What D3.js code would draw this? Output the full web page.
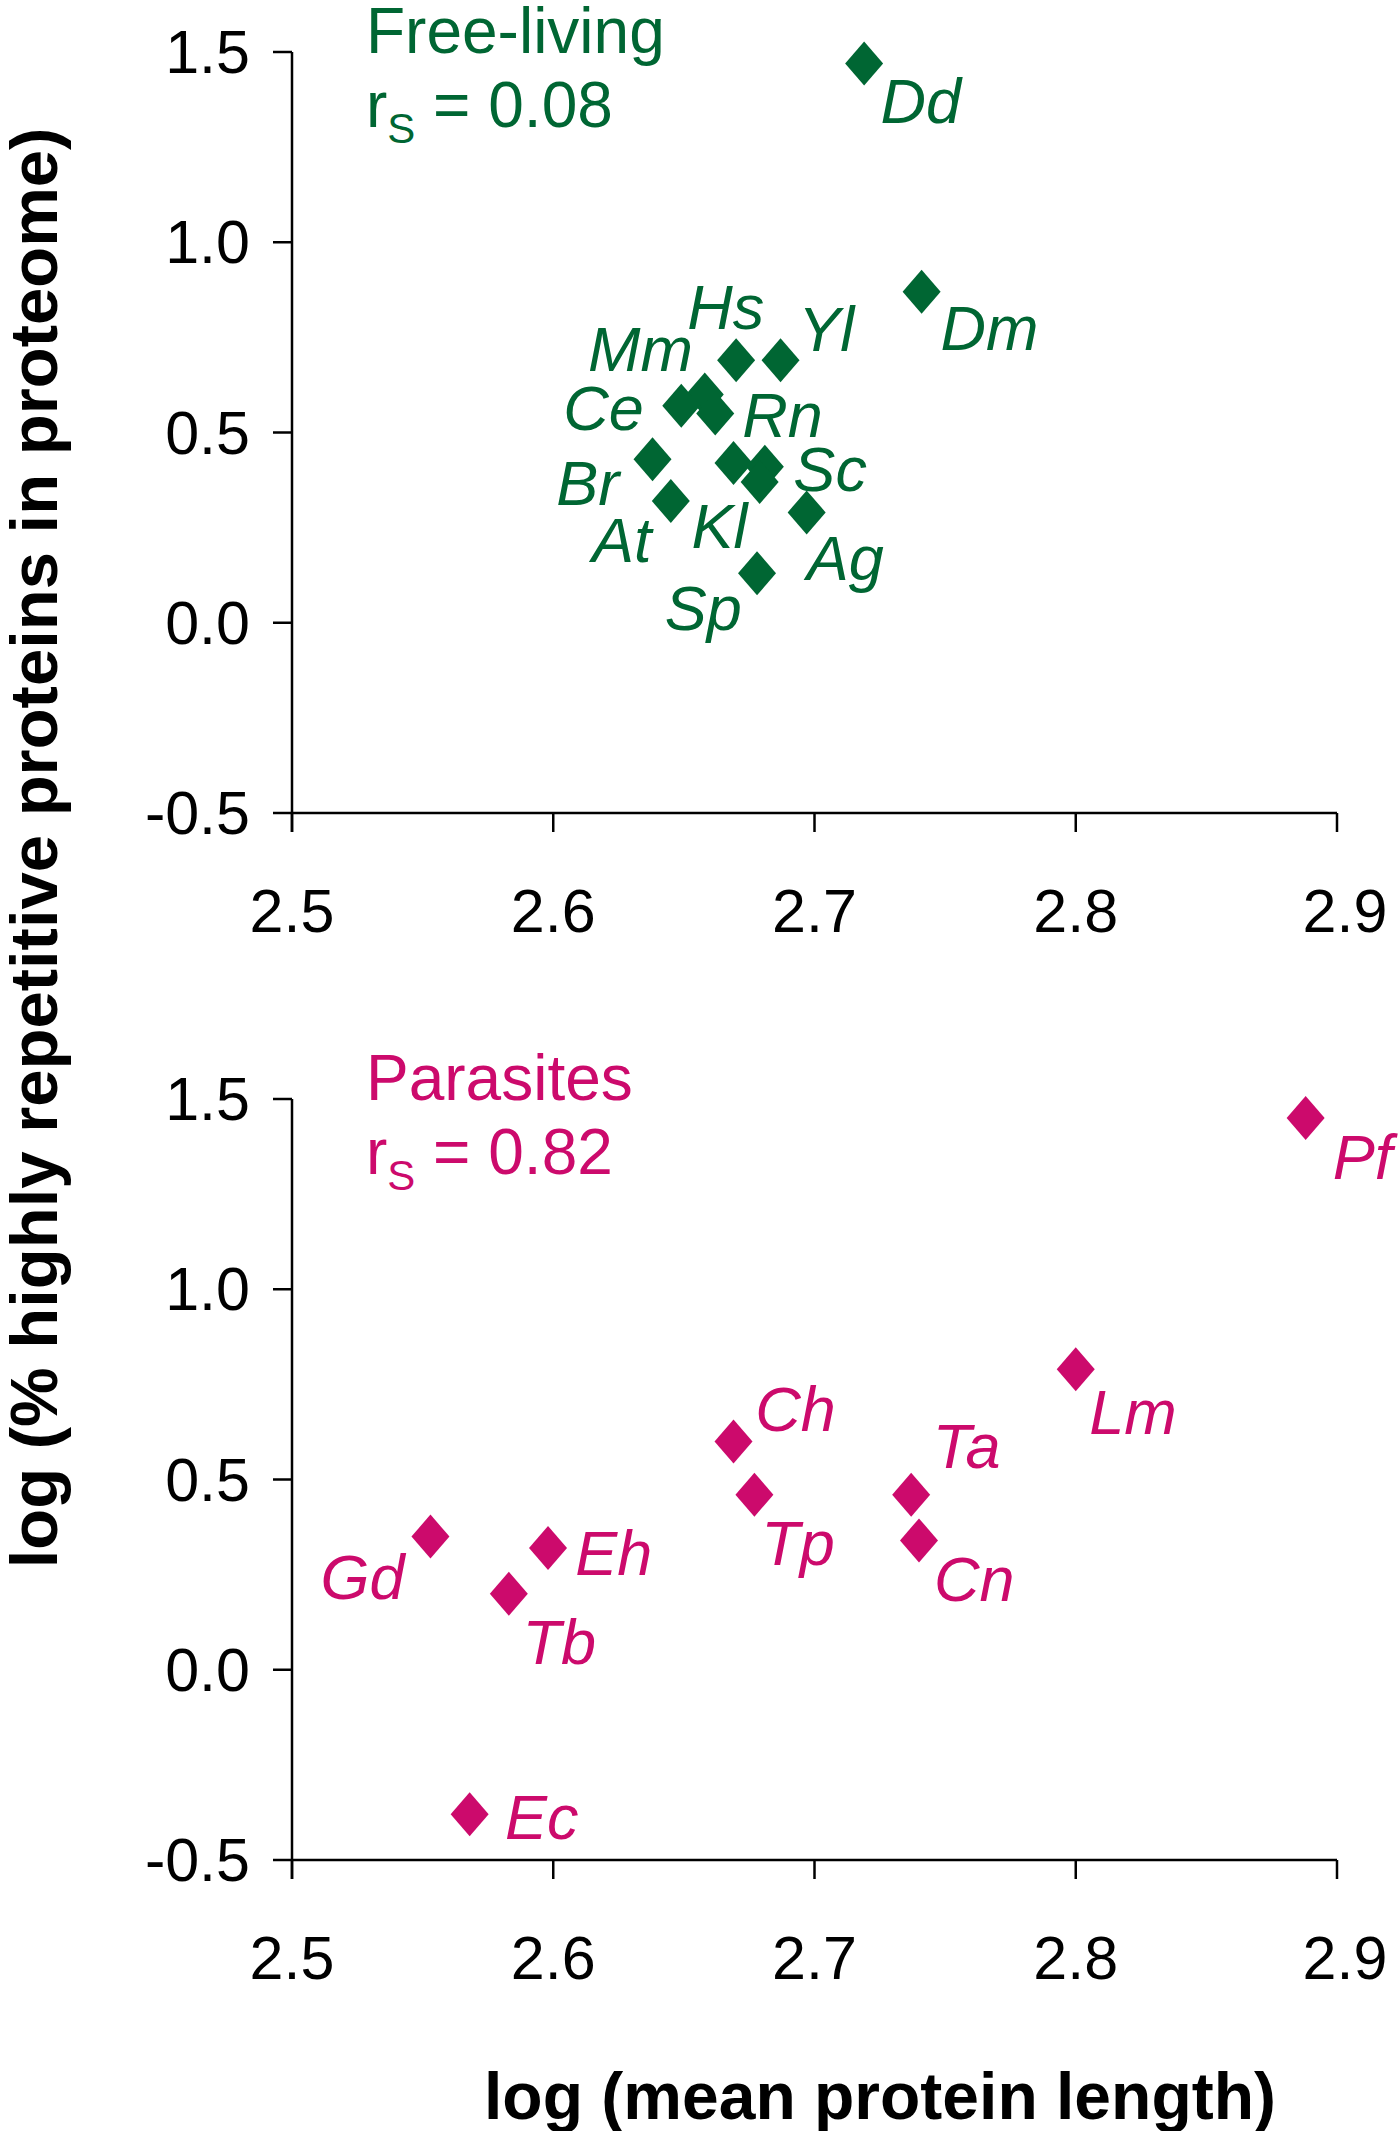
<!DOCTYPE html>
<html><head><meta charset="utf-8">
<script src="https://cdn.jsdelivr.net/npm/d3@7"></script>
<style>body{margin:0;background:#fff}text{font-family:"Liberation Sans",Arial,sans-serif}</style>
</head><body><div id="chart"></div>
<script>
// free-living species
var freeNames = ["Dd","Dm","Hs","Yl","Mm","Ce","Rn","Sc","","Br","At","Kl","Ag","Sp"];
var freeX = [2.719,2.741,2.670,2.687,2.658,2.649,2.662,2.681,2.679,2.638,2.645,2.669,2.697,2.678];
var freeY = [1.47,0.87,0.69,0.69,0.60,0.57,0.55,0.41,0.37,0.43,0.32,0.42,0.29,0.13];
var freeOff = [[12,44],[14,43],[-36,-23],[13,-7],[-86,-17],[-87,18],[20,17],[21,18],[0,0],[-71,34],[-58,45],[-31,63],[0,50],[-68,42]];
// parasites
var parNames = ["Pf","Lm","Ch","Tp","Ta","Cn","Gd","Eh","Tb","Ec"];
var parX = [2.888,2.800,2.669,2.677,2.737,2.740,2.553,2.598,2.583,2.568];
var parY = [1.45,0.79,0.60,0.46,0.46,0.34,0.35,0.32,0.20,-0.38];
var parOff = [[20,45],[10,48],[16,-8],[5,52],[16,-20],[11,45],[-81,46],[20,20],[10,52],[26,18]];
var xTicks = [2.5,2.6,2.7,2.8,2.9];
var yTicks = [1.5,1.0,0.5,0.0,-0.5];

var k = 1.357;
var W = 1398, H = 2131;
var svg = d3.select("#chart").append("svg").attr("width",W).attr("height",H);
var x = d3.scaleLinear().domain([2.5,2.9]).range([292,1337]);

function panel(top, names, xs, ys, offs, color, title, rs){
  var y = d3.scaleLinear().domain([-0.5,1.5]).range([top+761, top]);
  var g = svg.append("g");
  g.append("line").attr("x1",292).attr("x2",1337).attr("y1",y(-0.5)).attr("y2",y(-0.5)).attr("stroke","#000").attr("stroke-width",2.5);
  g.append("line").attr("x1",292).attr("x2",292).attr("y1",y(1.5)).attr("y2",y(-0.5)+19).attr("stroke","#000").attr("stroke-width",2.5);
  xTicks.forEach(function(t){
    g.append("line").attr("x1",x(t)).attr("x2",x(t)).attr("y1",y(-0.5)).attr("y2",y(-0.5)+19).attr("stroke","#000").attr("stroke-width",2.5);
    g.append("text").attr("x",x(t)+(t==2.9?8:0)).attr("y",y(-0.5)+119).attr("text-anchor","middle").attr("font-size",61).text(t.toFixed(1));
  });
  yTicks.forEach(function(t){
    g.append("line").attr("x1",273).attr("x2",292).attr("y1",y(t)).attr("y2",y(t)).attr("stroke","#000").attr("stroke-width",2.5);
    g.append("text").attr("x",250).attr("y",y(t)+21).attr("text-anchor","end").attr("font-size",61).text(t.toFixed(1));
  });
  names.forEach(function(n,i){
    var px = x(xs[i]), py = y(ys[i]);
    g.append("path").attr("d","M"+px+","+(py-22)+"L"+(px+19)+","+py+"L"+px+","+(py+22)+"L"+(px-19)+","+py+"Z").attr("fill",color);
    if(n) g.append("text").attr("x",px+offs[i][0]*k).attr("y",py+offs[i][1]*k).attr("font-size",63).attr("font-style","italic").attr("fill",color).text(n);
  });
  g.append("text").attr("x",366).attr("y",top+1).attr("font-size",64).attr("fill",color).text(title);
  var r = g.append("text").attr("x",366).attr("y",top+75).attr("font-size",64).attr("fill",color);
  r.append("tspan").text("r");
  r.append("tspan").attr("font-size",42).attr("dy",16).text("S");
  r.append("tspan").attr("dy",-16).text(" = "+rs);
}
panel(52, freeNames, freeX, freeY, freeOff, "#006633", "Free-living", "0.08");
panel(1099, parNames, parX, parY, parOff, "#cc0a6c", "Parasites", "0.82");

svg.append("text").attr("x",880).attr("y",2119).attr("text-anchor","middle").attr("font-size",66).attr("font-weight","bold").text("log (mean protein length)");
svg.append("text").attr("transform","translate(57,848) rotate(-90)").attr("text-anchor","middle").attr("font-size",67).attr("font-weight","bold").text("log (% highly repetitive proteins in proteome)");
</script></body></html>
